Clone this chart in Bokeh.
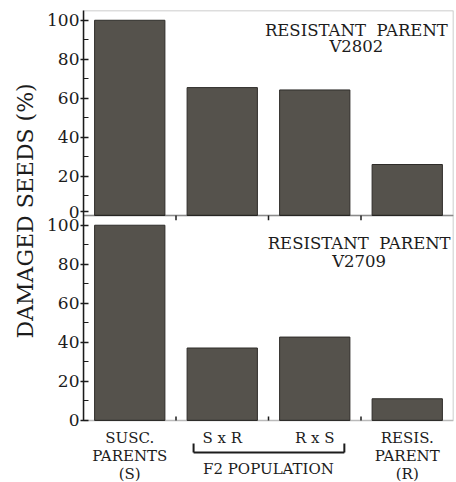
from bokeh.plotting import figure
from bokeh.models import (ColumnDataSource, FactorRange, Range1d, FixedTicker,
                          BoxAnnotation, Title)
from bokeh.transform import dodge
from bokeh.core.properties import value
from bokeh.embed import file_html
from bokeh.resources import INLINE

# ---- data -------------------------------------------------------------
groups = ["S", "SxR", "RxS", "R"]
group_labels = ["SUSC.\nPARENTS\n(S)", "S x R", "R x S", "RESIS.\nPARENT\n(R)"]
damaged_v2802 = [100, 65.5, 64.3, 26.1]
damaged_v2709 = [100, 37.1, 42.7, 11.1]
title_v2802 = ["RESISTANT\u00a0 PARENT", "V2802"]
title_v2709 = ["RESISTANT\u00a0 PARENT", "V2709"]
y_ticks = [0, 20, 40, 60, 80, 100]
y_minor_ticks = [10, 30, 50, 70, 90]
bracket_groups = ["SxR", "RxS"]
bracket_label = "F2 POPULATION"
y_label = "DAMAGED SEEDS (%)"

# ---- layout constants -------------------------------------------------
PANEL = 105      # data height of each stacked panel
FOOT = 31.8      # room under the lower panel for the category labels
ZERO_LIFT = 2    # raise the upper panel's zero label clear of the lower "100"
FONT = "DejaVu Serif"
INK = "#1c1c1c"
BAR = "#55524c"

p = figure(width=456, height=482,
           x_range=FactorRange(factors=groups),
           y_range=Range1d(-FOOT, 2 * PANEL),
           x_axis_location=None, y_axis_location="left",
           output_backend="svg", toolbar_location=None,
           min_border_left=83, min_border_right=3,
           min_border_top=10, min_border_bottom=0)
p.extra_y_ranges = {"upper": Range1d(-FOOT - PANEL, PANEL)}
p.outline_line_color = None
p.xgrid.visible = False
p.ygrid.visible = False
p.background_fill_color = "white"

# shared left axis: lower panel ticks at 0..100, upper panel shifted by PANEL
upper_ticks = [PANEL + t for t in y_ticks]
upper_ticks[0] += ZERO_LIFT
ax = p.yaxis[0]
ax.ticker = FixedTicker(ticks=y_ticks + upper_ticks,
                        minor_ticks=y_minor_ticks + [PANEL + t for t in y_minor_ticks])
overrides = {t: str(t) for t in y_ticks}
overrides.update({u: str(t) for u, t in zip(upper_ticks, y_ticks)})
ax.major_label_overrides = overrides
ax.bounds = (0, 2 * PANEL)
ax.axis_line_color = INK
ax.axis_line_width = 1.5
ax.major_tick_line_color = INK
ax.major_tick_line_width = 1.5
ax.major_tick_in = 5
ax.major_tick_out = 3
ax.minor_tick_line_color = INK
ax.minor_tick_line_width = 1.2
ax.minor_tick_in = 5
ax.minor_tick_out = 0
ax.major_label_standoff = 1
ax.major_label_text_font = FONT
ax.major_label_text_font_size = "17px"
ax.major_label_text_color = INK

p.add_layout(Title(text=y_label, align="left", offset=144, standoff=14,
                   text_font=FONT, text_font_size="22px",
                   text_font_style="normal", text_color=INK), "left")

# panel frames
for rng in ("default", "upper"):
    p.add_layout(BoxAnnotation(bottom=0, top=PANEL, y_range_name=rng,
                               fill_alpha=0, line_color=INK, line_width=1.5))

# bars
for rng, vals in (("upper", damaged_v2802), ("default", damaged_v2709)):
    src = ColumnDataSource(dict(group=groups, damaged=vals))
    p.vbar(x="group", top="damaged", bottom=0, width=0.76, source=src,
           y_range_name=rng, fill_color=BAR, line_color="#2e2c29", line_width=1)

# boundary ticks between groups on each panel's base line
bsrc = ColumnDataSource(dict(group=groups[:-1]))
edge = dodge("group", 0.5, range=p.x_range)
p.segment(x0=edge, y0=0, x1=edge, y1=2, source=bsrc,
          line_color=INK, line_width=1.5)
p.segment(x0=edge, y0=0, x1=edge, y1=-2.5, source=bsrc, y_range_name="upper",
          line_color=INK, line_width=1.5)

# panel captions
for rng, lines, ys, off in (("upper", title_v2802, [94.7, 86.5], 0.45),
                            ("default", title_v2709, [90.4, 81.4], 0.48)):
    tsrc = ColumnDataSource(dict(group=["RxS"] * len(lines), txt=lines, y=ys))
    p.text(x=dodge("group", off, range=p.x_range), y="y", text="txt", source=tsrc,
           y_range_name=rng, text_align="center", text_baseline="alphabetic",
           text_font=value(FONT), text_font_size="16.5px", text_color=INK)

# category labels below the lower panel
lsrc = ColumnDataSource(dict(group=groups, label=group_labels))
p.text(x="group", y=-4.6, text="label", source=lsrc,
       text_align="center", text_baseline="top", text_line_height=1.0,
       text_font=value(FONT), text_font_size="15px", text_color=INK)

# bracket grouping the two F2 crosses
left_end = dodge("a", -0.31, range=p.x_range)
right_end = dodge("b", 0.32, range=p.x_range)
brsrc = ColumnDataSource(dict(a=[bracket_groups[0]], b=[bracket_groups[1]]))
p.segment(x0=left_end, y0=-16.4, x1=right_end, y1=-16.4, source=brsrc,
          line_color=INK, line_width=2)
p.segment(x0=left_end, y0=-16.4, x1=left_end, y1=-11.8, source=brsrc,
          line_color=INK, line_width=2)
p.segment(x0=right_end, y0=-16.4, x1=right_end, y1=-11.8, source=brsrc,
          line_color=INK, line_width=2)
fsrc = ColumnDataSource(dict(group=[bracket_groups[0]], txt=[bracket_label]))
p.text(x=dodge("group", 0.5, range=p.x_range), y=-20.5, text="txt", source=fsrc,
       text_align="center", text_baseline="top",
       text_font=value(FONT), text_font_size="15px", text_color=INK)

open("out.html", "w").write(file_html(p, INLINE))
